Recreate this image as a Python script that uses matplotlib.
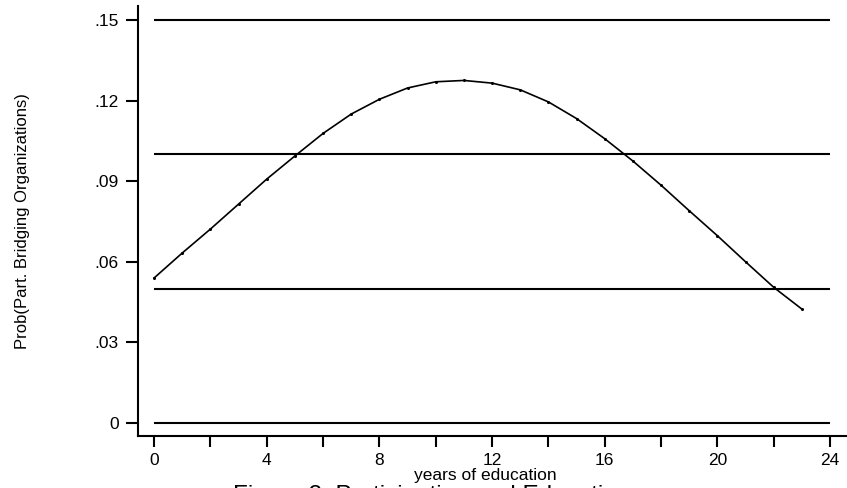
import matplotlib
matplotlib.use("Agg")
import matplotlib.pyplot as plt

plt.rcParams["font.family"] = ["Liberation Sans", "DejaVu Sans"]

# predicted probability by years of education
years = [0, 1, 2, 3, 4, 5, 6, 7, 8, 9, 10, 11,
         12, 13, 14, 15, 16, 17, 18, 19, 20, 21, 22, 23]
prob = [.0540, .0633, .0722, .0815, .0908, .0994, .1078, .1150,
        .1205, .1247, .1270, .1275, .1265, .1240, .1195, .1133,
        .1058, .0975, .0885, .0790, .0697, .0600, .0505, .0424]

ref_levels = [0, .05, .10, .15]
xticks = [0, 4, 8, 12, 16, 20, 24]
xminor = [2, 6, 10, 14, 18, 22]
yticks = [0, .03, .06, .09, .12, .15]
ylabels = ["0", ".03", ".06", ".09", ".12", ".15"]

fig = plt.figure(figsize=(8.47, 4.88), dpi=100)
ax = fig.add_axes([0.163, 0.1066, 0.837, 0.8811])

# reference lines across the education range
for lev in ref_levels:
    ax.plot([xticks[0], xticks[-1]], [lev, lev], color="black", lw=1.5,
            solid_capstyle="butt")

ax.plot(years, prob, color="black", lw=1.2, marker="o", markersize=1.2)

ax.set_xlim(-0.57, 24.6)
ax.set_ylim(-0.0048, 0.1552)

ax.set_xticks(xticks)
ax.set_xticks(xminor, minor=True)
ax.set_yticks(yticks)
ax.set_yticklabels(ylabels)

for s in ["top", "right"]:
    ax.spines[s].set_visible(False)
for s in ["left", "bottom"]:
    ax.spines[s].set_linewidth(1.5)

ax.tick_params(axis="y", which="major", length=8.5, width=1.5, pad=5.5,
               labelsize=12.5)
ax.tick_params(axis="x", which="both", length=8, width=1.5, pad=4,
               labelsize=12.5)

ax.set_ylabel("Prob(Part. Bridging Organizations)", fontsize=12)
ax.yaxis.set_label_coords(-0.152, 0.5)
ax.set_xlabel("years of education", fontsize=12.5)
ax.xaxis.set_label_coords(0.49, -0.093)
ax.xaxis.label.set_va("center")

fig.text(233 / 847, -0.029, "Figure 2: Participation and Education",
         fontsize=17.5, ha="left", va="baseline")

fig.savefig("out.png", dpi=100)
